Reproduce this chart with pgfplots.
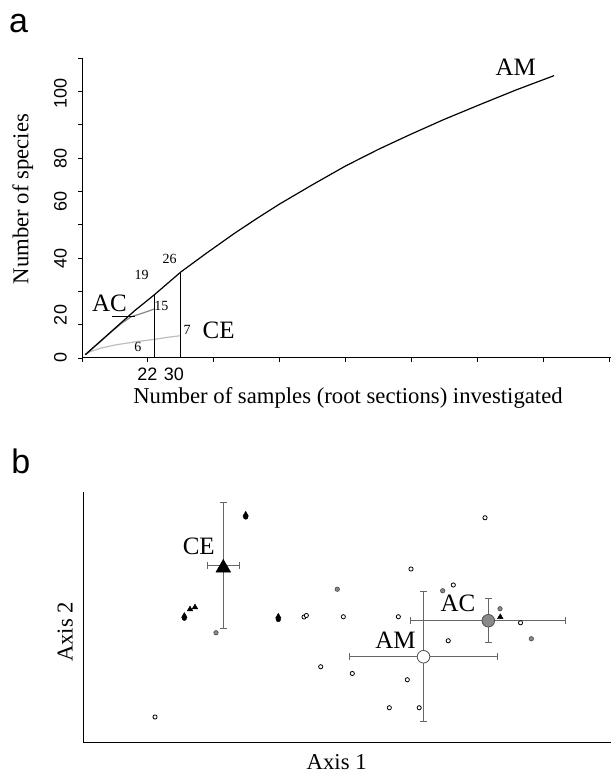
\documentclass[border=0pt]{standalone}
\usepackage{fontspec}
\setmainfont{Liberation Serif}
\newfontfamily\arial{Liberation Sans}
\usepackage{pgfplots}
\pgfplotsset{compat=1.18}
\definecolor{errgray}{HTML}{666666}
\definecolor{acgray}{HTML}{858585}
\definecolor{cegray}{HTML}{BDBDBD}
\definecolor{ptgray}{HTML}{8A8A8A}
\definecolor{edgegray}{HTML}{505050}
\begin{document}
\begin{tikzpicture}
\useasboundingbox (0pt,0pt) rectangle (611pt,773pt);
% panel letters
\node[anchor=base, inner sep=0pt, font=\arial\fontsize{34}{34}\selectfont] at (18.5pt,740pt) {a};
\node[anchor=base, inner sep=0pt, font=\arial\fontsize{34}{34}\selectfont] at (20.8pt,299.7pt) {b};
% axis titles
\node[anchor=base, inner sep=0pt, font=\fontsize{22.7}{22.7}\selectfont] at (348pt,369.7pt) {Number of samples (root sections) investigated};
\node[anchor=base, rotate=90, inner sep=0pt, font=\fontsize{22.7}{22.7}\selectfont] at (28.4pt,574pt) {Number of species};
\node[anchor=base, inner sep=0pt, font=\fontsize{22.7}{22.7}\selectfont] at (336.7pt,4pt) {Axis 1};
\node[anchor=base, rotate=90, inner sep=0pt, font=\fontsize{22.7}{22.7}\selectfont] at (72.7pt,141pt) {Axis 2};

% ---------------- panel a ----------------
\begin{axis}[at={(82pt,415pt)}, anchor=south west, scale only axis,
  width=529pt, height=300pt,
  xmin=0, xmax=160.6, ymin=0, ymax=90,
  axis lines=left, axis line style={-, line width=1pt},
  tick align=outside, major tick length=4pt,
  tick style={line width=0.9pt, black},
  xtick={0,20,...,160}, xticklabels={},
  ytick={0,10,...,90}, yticklabels={},
  extra x ticks={22,30}, extra x tick labels={22,30},
  extra x tick style={major tick length=0pt, xticklabel style={anchor=base, yshift=-23pt, xshift=-7pt}},
  extra y ticks={0,12.9,29.9,46.9,59.9,79.4}, extra y tick labels={0,20,40,60,80,100},
  extra y tick style={major tick length=0pt, yticklabel style={rotate=90, anchor=base, yshift=15.3pt}},
  tick label style={font=\arial\fontsize{18}{18}\selectfont},
  clip=false]
\addplot[cegray, line width=1.2pt] coordinates {(1,1)(2.5,1.9)(5.5,2.9)(10,3.9)(16.6,4.9)(22,5.6)(26,6.2)(30,6.7)};
\addplot[acgray, line width=1.2pt] coordinates {(1,1)(5,4.4)(9,7.9)(12,10.4)(15,12.4)(18.5,13.5)(22,14.7)};
\addplot[black, line width=1.2pt] coordinates {(1,1)(6,5.4)(11,9.8)(16,14.2)(22,19)(30,25.8)(38,31.6)(46,37.2)(53,41.8)(60,46.2)(70,52)(80,57.6)(90,62.6)(100,67.2)(110,71.6)(121,76.1)(132,80.5)(143.3,84.7)};
\addplot[black, line width=1pt] coordinates {(22,0)(22,19)};
\addplot[black, line width=1pt] coordinates {(30,0)(30,25.8)};
\addplot[black, line width=1pt] coordinates {(9,12.4)(16.1,12.4)};
\node[inner sep=0pt, font=\fontsize{14}{14}\selectfont] at (axis cs:18.1,24.9) {19};
\node[inner sep=0pt, font=\fontsize{14}{14}\selectfont] at (axis cs:26.6,29.8) {26};
\node[inner sep=0pt, font=\fontsize{14}{14}\selectfont] at (axis cs:24.1,15.7) {15};
\node[inner sep=0pt, font=\fontsize{14}{14}\selectfont] at (axis cs:31.9,8.4) {7};
\node[inner sep=0pt, font=\fontsize{14}{14}\selectfont] at (axis cs:17.0,3.4) {6};
\node[inner sep=0pt, font=\fontsize{25}{25}\selectfont] at (axis cs:8.35,16.4) {AC};
\node[inner sep=0pt, font=\fontsize{25}{25}\selectfont] at (axis cs:41.5,8.4) {CE};
\node[inner sep=0pt, font=\fontsize{25}{25}\selectfont] at (axis cs:131.7,87.2) {AM};
\end{axis}

% ---------------- panel b ----------------
\begin{axis}[at={(83pt,31pt)}, anchor=south west, scale only axis,
  width=528pt, height=250pt,
  xmin=0, xmax=10, ymin=0, ymax=10,
  axis lines=left, axis line style={-, line width=1pt},
  xtick=\empty, ytick=\empty, clip=false]
% AM samples (open circles)
\addplot[only marks, mark=*, mark size=2.1pt, mark options={fill=white, draw=black, line width=0.8pt}] coordinates {
(1.364,1.0)(4.186,5.0)(4.23,5.06)(4.502,3.01)(4.930,5.01)(5.100,2.74)(5.801,1.37)(5.972,5.01)
(6.142,2.49)(6.212,6.92)(6.367,1.37)(6.917,4.05)(7.013,6.28)(7.614,8.97)(8.286,4.77)};
% AC samples (grey circles)
\addplot[only marks, mark=*, mark size=2.2pt, mark options={fill=ptgray, draw=edgegray, line width=0.7pt}] coordinates {
(2.519,4.37)(4.816,6.11)(6.812,6.05)(7.898,5.33)(8.491,4.13)};
% CE samples (black)
\addplot[only marks, mark=*, mark size=2.3pt, black] coordinates {(3.081,9.00)(1.919,4.95)(3.699,4.90)};
\addplot[only marks, mark=triangle*, mark size=3.2pt, black] coordinates {(3.081,9.10)(1.919,5.05)(3.699,5.02)(2.027,5.31)(2.121,5.39)(7.903,5.0)};
% centroids with error bars
\addplot[only marks, mark=*, mark size=6.3pt, mark options={fill=white, draw=edgegray, line width=0.8pt},
  error bars/.cd, x dir=both, x explicit, y dir=both, y explicit,
  error bar style={line width=1pt, errgray},
  error mark options={rotate=90, mark size=3.5pt, line width=1pt, errgray}]
  coordinates {(6.449,3.41) +- (1.397,2.6)};
\addplot[only marks, mark=*, mark size=6.3pt, mark options={fill=ptgray, draw=edgegray, line width=0.8pt},
  error bars/.cd, x dir=both, x explicit, y dir=both, y explicit,
  error bar style={line width=1pt, errgray},
  error mark options={rotate=90, mark size=3.5pt, line width=1pt, errgray}]
  coordinates {(7.676,4.85) +- (1.468,0.888)};
\addplot[only marks, mark=triangle*, mark size=8.5pt, mark options={yshift=-2.1pt}, black,
  error bars/.cd, x dir=both, x explicit, y dir=both, y explicit,
  error bar style={line width=1pt, errgray},
  error mark options={rotate=90, mark size=3.5pt, line width=1pt, errgray, yshift=0pt}]
  coordinates {(2.657,7.05) +- (0.30,2.51)};
\node[inner sep=0pt, font=\fontsize{25}{25}\selectfont] at (axis cs:2.193,7.81) {CE};
\node[inner sep=0pt, font=\fontsize{25}{25}\selectfont] at (axis cs:7.102,5.55) {AC};
\node[inner sep=0pt, font=\fontsize{25}{25}\selectfont] at (axis cs:5.919,4.08) {AM};
\end{axis}
\end{tikzpicture}
\end{document}
